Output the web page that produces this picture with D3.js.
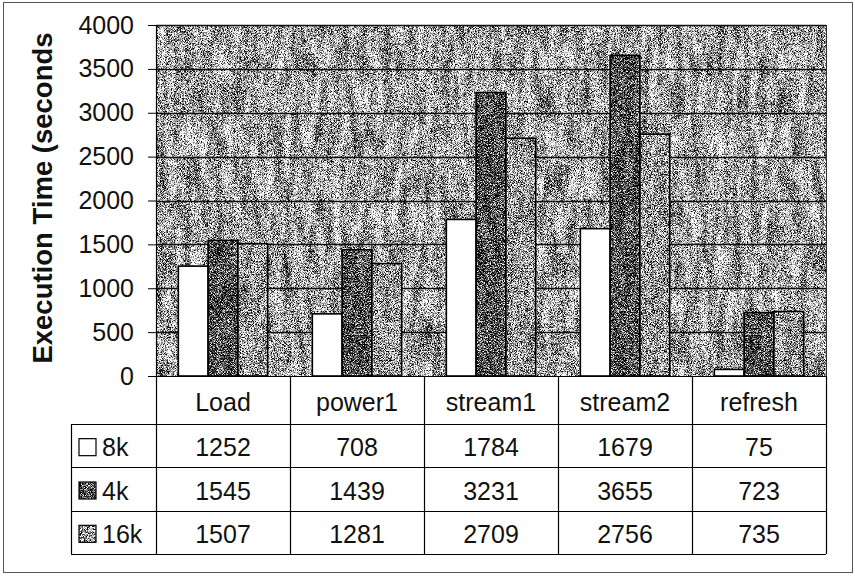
<!DOCTYPE html>
<html lang="en">
<head>
<meta charset="utf-8">
<title>Execution time</title>
<script src="https://d3js.org/d3.v7.min.js"></script>
<style>
  body { margin: 0; background: #fff; }
  svg { display: block; font-family: "Liberation Sans", Arial, sans-serif; }
</style>
</head>
<body>
<div id="chart"></div>
<script>
// Data
var categories = ["Load", "power1", "stream1", "stream2", "refresh"];
var seriesNames = ["8k", "4k", "16k"];
var values8k = [1252, 708, 1784, 1679, 75];
var values4k = [1545, 1439, 3231, 3655, 723];
var values16k = [1507, 1281, 2709, 2756, 735];
var yTicks = [0, 500, 1000, 1500, 2000, 2500, 3000, 3500, 4000];
var yLabel = "Execution Time (seconds";

var seriesValues = [values8k, values4k, values16k];

// Setup
var width = 855, height = 577;
var plot = { left: 156, right: 826, top: 25, bottom: 376 };
var table = { left: 71, header: 376, top: 424, bottom: 554 };
var fontSize = 25;

var svg = d3.select("#chart").append("svg")
    .attr("width", width)
    .attr("height", height);

// Grainy fills, like the scanned dither in the original:
// fine pixel speckle plus a faint coarse, vertically stretched blotch layer
var defs = svg.append("defs");
var toGray = "1 0 0 0 0  1 0 0 0 0  1 0 0 0 0  0 0 0 0 1";
function grain(id, slope, intercept, blotch, seed) {
    var f = defs.append("filter")
        .attr("id", id)
        .attr("filterUnits", "userSpaceOnUse")
        .attr("x", -100).attr("y", -100).attr("width", width + 200).attr("height", height + 200)
        .attr("color-interpolation-filters", "sRGB");
    f.append("feTurbulence")
        .attr("type", "fractalNoise")
        .attr("baseFrequency", "1.3")
        .attr("numOctaves", 1)
        .attr("seed", seed)
        .attr("result", "fineRaw");
    f.append("feColorMatrix")
        .attr("in", "fineRaw").attr("type", "matrix").attr("values", toGray)
        .attr("result", "fine");
    f.append("feTurbulence")
        .attr("type", "fractalNoise")
        .attr("baseFrequency", "0.12 0.025")
        .attr("numOctaves", 2)
        .attr("seed", seed + 1)
        .attr("result", "coarseRaw");
    f.append("feColorMatrix")
        .attr("in", "coarseRaw").attr("type", "matrix").attr("values", toGray)
        .attr("result", "coarse");
    f.append("feComposite")
        .attr("in", "fine").attr("in2", "coarse")
        .attr("operator", "arithmetic")
        .attr("k1", 0).attr("k2", 1).attr("k3", blotch).attr("k4", -blotch * 0.5)
        .attr("result", "mix");
    var ct = f.append("feComponentTransfer").attr("in", "mix").attr("result", "tone");
    ["feFuncR", "feFuncG", "feFuncB"].forEach(function(fn) {
        ct.append(fn).attr("type", "linear").attr("slope", slope).attr("intercept", intercept);
    });
    ct.append("feFuncA").attr("type", "linear").attr("slope", 0).attr("intercept", 1);
    f.append("feComposite").attr("in", "tone").attr("in2", "SourceAlpha").attr("operator", "in");
}
grain("bg-grain", 3.5, -1.1, 0.28, 4);
grain("dark-grain", 3.5, -1.45, 0.15, 7);
grain("mid-grain", 3.5, -1.14, 0.15, 11);

var seriesFill = { "8k": null, "4k": "url(#dark-grain)", "16k": "url(#mid-grain)" };

// Scales
var y = d3.scaleLinear().domain([0, 4000]).range([plot.bottom, plot.top]);
var xCol = d3.scaleBand().domain(categories).range([plot.left, plot.right]);
var xGroup = d3.scaleBand().domain(categories).range([plot.left, plot.right])
    .paddingInner(1 / 3).paddingOuter(1 / 6);
var xSeries = d3.scaleBand().domain(seriesNames).range([0, xGroup.bandwidth()]);
var yRow = d3.scaleBand().domain(seriesNames).range([table.top, table.bottom]);

// Outer frame
svg.append("rect")
    .attr("x", 3.5).attr("y", 2.5)
    .attr("width", 849).attr("height", 570)
    .attr("fill", "none").attr("stroke", "#555").attr("stroke-width", 1);

// Plot background
svg.append("rect")
    .attr("x", plot.left).attr("y", plot.top)
    .attr("width", plot.right - plot.left).attr("height", plot.bottom - plot.top)
    .attr("fill", "#000")
    .attr("filter", "url(#bg-grain)");

// Gridlines
svg.append("g")
    .selectAll("line")
    .data(yTicks.slice(1))
    .join("line")
    .attr("x1", plot.left).attr("x2", plot.right)
    .attr("y1", function(d) { return Math.round(y(d)) + 0.5; })
    .attr("y2", function(d) { return Math.round(y(d)) + 0.5; })
    .attr("stroke", "#111").attr("stroke-width", 1.5);

// Right edge of plot area
svg.append("line")
    .attr("x1", plot.right + 0.5).attr("x2", plot.right + 0.5)
    .attr("y1", plot.top).attr("y2", plot.bottom)
    .attr("stroke", "#333").attr("stroke-width", 1);

// Bars
var barData = function(s, i) {
    return categories.map(function(c, j) { return { series: s, cat: c, value: seriesValues[i][j] }; });
};
var groups = svg.append("g")
    .selectAll("g")
    .data(seriesNames)
    .join("g");

groups.selectAll("rect.fill")
    .data(barData)
    .join("rect")
    .attr("class", "fill")
    .attr("x", function(d) { return xGroup(d.cat) + xSeries(d.series); })
    .attr("y", function(d) { return y(d.value); })
    .attr("width", xSeries.bandwidth())
    .attr("height", function(d) { return y(0) - y(d.value); })
    .attr("fill", function(d) { return d.series == "8k" ? "#fff" : "#000"; })
    .attr("filter", function(d) { return seriesFill[d.series]; });

groups.selectAll("rect.edge")
    .data(barData)
    .join("rect")
    .attr("class", "edge")
    .attr("x", function(d) { return xGroup(d.cat) + xSeries(d.series); })
    .attr("y", function(d) { return y(d.value); })
    .attr("width", xSeries.bandwidth())
    .attr("height", function(d) { return y(0) - y(d.value); })
    .attr("fill", "none")
    .attr("stroke", "#000").attr("stroke-width", 1.6);

// Y axis
var yAxis = d3.axisLeft(y).tickValues(yTicks).tickFormat(d3.format("d")).tickSize(8).tickPadding(14);
var yAxisG = svg.append("g")
    .attr("transform", "translate(" + plot.left + ",0)")
    .call(yAxis);
yAxisG.select(".domain").attr("stroke", "#000").attr("stroke-width", 1.2);
yAxisG.selectAll(".tick line").attr("stroke", "#000");
yAxisG.selectAll(".tick text")
    .attr("font-size", fontSize)
    .attr("font-family", "Liberation Sans, Arial, sans-serif")
    .attr("fill", "#111");

svg.append("text")
    .attr("transform", "translate(52,198) rotate(-90)")
    .attr("text-anchor", "middle")
    .attr("font-size", 27.5)
    .attr("font-weight", "bold")
    .attr("fill", "#111")
    .text(yLabel);

// Data table
var tableG = svg.append("g")
    .attr("stroke", "#000")
    .attr("stroke-width", 1.2);

// horizontal rules
tableG.append("line")
    .attr("x1", plot.left).attr("x2", plot.right)
    .attr("y1", table.header + 0.5).attr("y2", table.header + 0.5);
tableG.selectAll("line.row")
    .data(seriesNames)
    .join("line")
    .attr("class", "row")
    .attr("x1", table.left).attr("x2", plot.right)
    .attr("y1", function(d) { return Math.round(yRow(d)) + 0.5; })
    .attr("y2", function(d) { return Math.round(yRow(d)) + 0.5; });
tableG.append("line")
    .attr("x1", table.left).attr("x2", plot.right)
    .attr("y1", table.bottom + 0.5).attr("y2", table.bottom + 0.5);

// vertical rules
tableG.selectAll("line.col")
    .data(categories)
    .join("line")
    .attr("class", "col")
    .attr("x1", function(d) { return Math.round(xCol(d)) + 0.5; })
    .attr("x2", function(d) { return Math.round(xCol(d)) + 0.5; })
    .attr("y1", table.header).attr("y2", table.bottom);
tableG.append("line")
    .attr("x1", plot.right + 0.5).attr("x2", plot.right + 0.5)
    .attr("y1", table.header).attr("y2", table.bottom);
tableG.append("line")
    .attr("x1", table.left + 0.5).attr("x2", table.left + 0.5)
    .attr("y1", table.top).attr("y2", table.bottom);

// header labels
svg.append("g")
    .selectAll("text")
    .data(categories)
    .join("text")
    .attr("x", function(d) { return xCol(d) + xCol.bandwidth() / 2; })
    .attr("y", (table.header + table.top) / 2 + 2)
    .attr("dy", "0.35em")
    .attr("text-anchor", "middle")
    .attr("font-size", fontSize)
    .attr("fill", "#111")
    .text(function(d) { return d; });

// value cells
var rowsG = svg.append("g")
    .selectAll("g")
    .data(seriesNames)
    .join("g")
    .attr("transform", function(d) { return "translate(0," + (yRow(d) + yRow.bandwidth() / 2 + 2) + ")"; });

rowsG.selectAll("text.val")
    .data(function(s, i) {
        return categories.map(function(c, j) { return { cat: c, value: seriesValues[i][j] }; });
    })
    .join("text")
    .attr("class", "val")
    .attr("x", function(d) { return xCol(d.cat) + xCol.bandwidth() / 2; })
    .attr("dy", "0.35em")
    .attr("text-anchor", "middle")
    .attr("font-size", fontSize)
    .attr("fill", "#111")
    .text(function(d) { return d.value; });

// legend keys inside the table
rowsG.append("rect")
    .attr("x", 79).attr("y", -9)
    .attr("width", 17).attr("height", 17)
    .attr("fill", function(d) { return d == "8k" ? "#fff" : "#000"; })
    .attr("filter", function(d) { return seriesFill[d]; });
rowsG.append("rect")
    .attr("x", 79).attr("y", -9)
    .attr("width", 17).attr("height", 17)
    .attr("fill", "none")
    .attr("stroke", "#000").attr("stroke-width", 1.2);
rowsG.append("text")
    .attr("x", 102)
    .attr("dy", "0.35em")
    .attr("font-size", fontSize)
    .attr("fill", "#111")
    .text(function(d) { return d; });
</script>
</body>
</html>
